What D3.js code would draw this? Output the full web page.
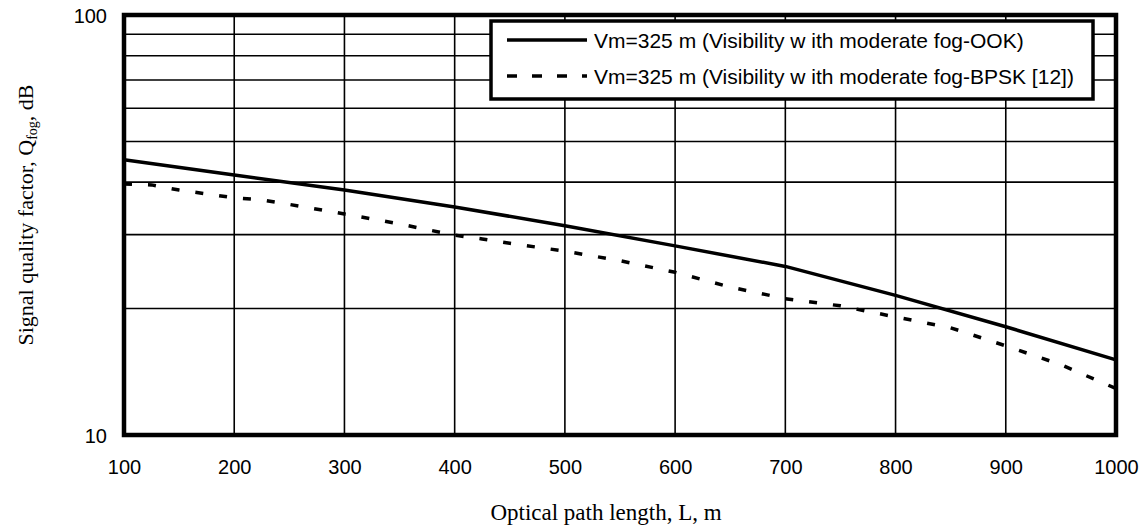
<!DOCTYPE html>
<html><head><meta charset="utf-8">
<script src="https://cdn.jsdelivr.net/npm/d3@7"></script>
<style>body{margin:0;background:#fff}svg{display:block}</style>
</head><body>
<svg id="c" width="1145" height="528"></svg>
<script>
const xTicks = [100,200,300,400,500,600,700,800,900,1000];
const yGrid = [20,30,40,50,60,70,80,90];
const yTickLabels = [10,100];
const ookX = [100,200,300,400,500,600,700,800,900,1000];
const ookY = [45.2,41.6,38.3,34.9,31.5,28.2,25.2,21.5,18.1,15.1];
const bpskX = [100,125,150,200,225,250,300,350,400,425,450,500,550,600,650,675,700,750,800,850,900,950,1000];
const bpskY = [39.6,39.4,38.3,36.7,36.3,35.4,33.6,31.8,29.9,29.3,28.6,27.4,26.0,24.4,22.5,21.8,21.1,20.3,19.1,18.0,16.3,14.7,12.9];
const legendLabels = ["Vm=325 m (Visibility w ith moderate fog-OOK)","Vm=325 m (Visibility w ith moderate fog-BPSK [12])"];

const svg = d3.select("#c");
const L=124, R=1116, T=15, B=435;
const x = d3.scaleLinear().domain([100,1000]).range([L,R]);
const y = d3.scaleLog().domain([10,100]).range([B,T]);

const g = svg.append("g");
g.selectAll(".vg").data(xTicks).enter().append("line")
  .attr("x1",d=>x(d)).attr("x2",d=>x(d)).attr("y1",T).attr("y2",B)
  .attr("stroke","#000").attr("stroke-width",1.6);
g.selectAll(".hg").data(yGrid).enter().append("line")
  .attr("x1",L).attr("x2",R).attr("y1",d=>y(d)).attr("y2",d=>y(d))
  .attr("stroke","#000").attr("stroke-width",1.6);

const lineGen = d3.line().x(d=>x(d[0])).y(d=>y(d[1]));
g.append("path").datum(ookX.map((v,i)=>[v,ookY[i]])).attr("d",lineGen)
  .attr("fill","none").attr("stroke","#000").attr("stroke-width",3.5);
g.append("path").datum(bpskX.map((v,i)=>[v,bpskY[i]])).attr("d",lineGen)
  .attr("fill","none").attr("stroke","#000").attr("stroke-width",3.5).attr("stroke-dasharray","8,16");

g.append("rect").attr("x",L).attr("y",T).attr("width",R-L).attr("height",B-T)
  .attr("fill","none").attr("stroke","#000").attr("stroke-width",4.5);

const xAxis = d3.axisBottom(x).tickValues(xTicks).tickSize(0).tickPadding(0).tickFormat(d3.format("d"));
const xa = svg.append("g").attr("transform",`translate(0,${B})`).call(xAxis);
xa.select(".domain").remove();
xa.selectAll("text").attr("dy",null).attr("y",39).attr("font-family","Liberation Sans, Arial, sans-serif").attr("font-size",20).attr("fill","#000");

const yAxis = d3.axisLeft(y).tickValues(yTickLabels).tickSize(0).tickPadding(0).tickFormat(d3.format("d"));
const ya = svg.append("g").attr("transform",`translate(${L},0)`).call(yAxis);
ya.select(".domain").remove();
ya.selectAll("text").attr("x",-17).attr("dy","0.36em").attr("font-family","Liberation Sans, Arial, sans-serif").attr("font-size",20).attr("fill","#000");

svg.append("text").attr("x",606).attr("y",520).attr("text-anchor","middle")
  .attr("font-family","Liberation Serif, Times New Roman, serif").attr("font-size",23).text("Optical path length, L, m");
const yt = svg.append("text").attr("transform","translate(33,215) rotate(-90)").attr("text-anchor","middle")
  .attr("font-family","Liberation Serif, Times New Roman, serif").attr("font-size",22);
yt.append("tspan").text("Signal quality factor, Q");
yt.append("tspan").attr("font-size",14).attr("dy",4).text("fog");
yt.append("tspan").attr("dy",-4).text(", dB");

const lg = svg.append("g");
lg.append("rect").attr("x",491).attr("y",21).attr("width",602).attr("height",78)
  .attr("fill","#fff").attr("stroke","#000").attr("stroke-width",3.5);
const ly = [40,76];
legendLabels.forEach((t,i)=>{
  lg.append("line").attr("x1",507).attr("x2",587).attr("y1",ly[i]).attr("y2",ly[i])
    .attr("stroke","#000").attr("stroke-width",3.5).attr("stroke-dasharray",i? "10,15":null);
  lg.append("text").attr("x",594).attr("y",ly[i]).attr("dy","0.36em")
    .attr("font-family","Liberation Sans, Arial, sans-serif").attr("font-size",21).text(t);
});
</script>
</body></html>
